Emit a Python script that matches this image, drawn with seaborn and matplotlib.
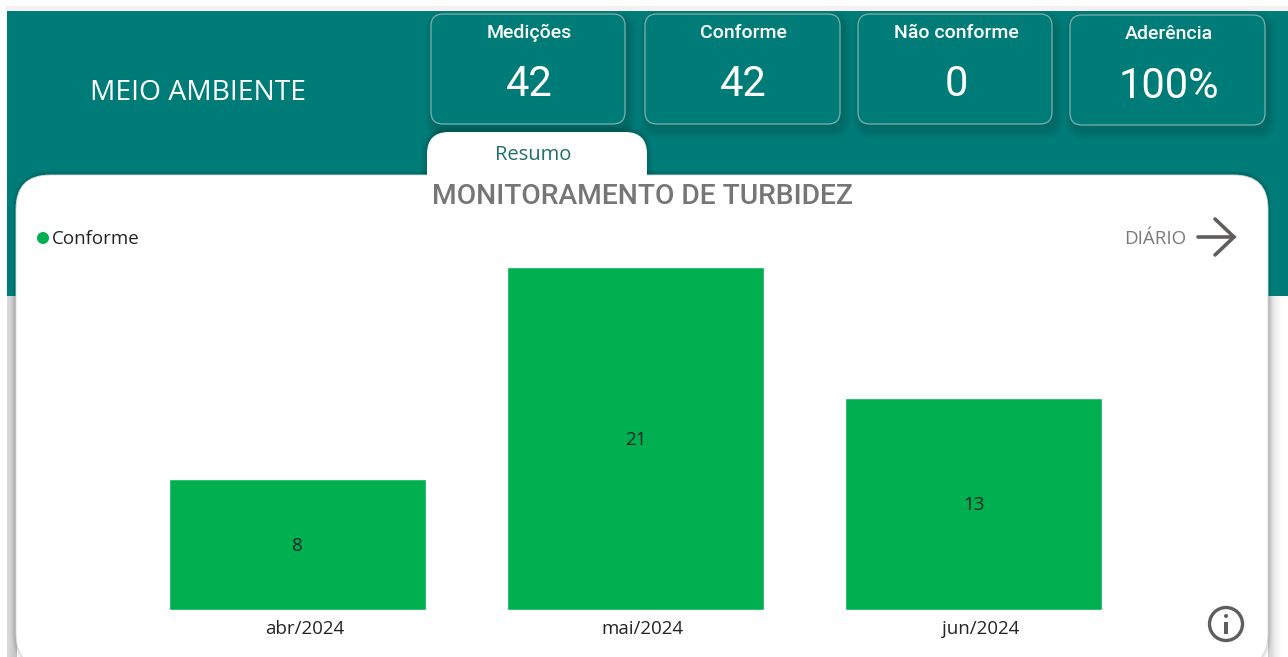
import matplotlib
matplotlib.use("Agg")
import matplotlib.pyplot as plt
from matplotlib.patches import FancyBboxPatch, Rectangle, Circle
from matplotlib.transforms import ScaledTranslation
import pandas as pd
import seaborn as sns

months = ["abr/2024", "mai/2024", "jun/2024"]
conforme = [8, 21, 13]
kpi_titles = ["Medições", "Conforme", "Não conforme", "Aderência"]
kpi_values = ["42", "42", "0", "100%"]
page_title = "MEIO AMBIENTE"
tab_label = "Resumo"
chart_title = "MONITORAMENTO DE TURBIDEZ"
legend_label = "Conforme"
link_label = "DIÁRIO"

TEAL = "#007C78"
GREEN = "#00B050"
W, H = 1288, 657

sns.set_theme(style="white")
plt.rcParams["font.family"] = ["Open Sans", "DejaVu Sans"]

fig = plt.figure(figsize=(W / 100, H / 100), dpi=100, facecolor="white")
bg = fig.add_axes([0, 0, 1, 1], zorder=0)
bg.set_xlim(0, W)
bg.set_ylim(H, 0)
bg.axis("off")


def rrect(x0, y0, x1, y1, r, fc, ec="none", lw=0, alpha=None, z=1):
    p = FancyBboxPatch((x0, y0), x1 - x0, y1 - y0,
                       boxstyle=f"round,pad=0,rounding_size={r}",
                       fc=fc, ec=ec, lw=lw, alpha=alpha, zorder=z)
    bg.add_patch(p)
    return p


def shadow(x0, y0, x1, y1, r, dx, dy, spread, strength, z):
    for i in range(spread, 0, -1):
        rrect(x0 + dx - i, y0 + dy - i, x1 + dx + i, y1 + dy + i, r + i,
              "black", alpha=strength, z=z)


# page background
bg.add_patch(Rectangle((6, 6), W - 6, 5, fc="#F3F0EF", ec="none", zorder=0.5))
bg.add_patch(Rectangle((7, 11), W - 7, 285, fc=TEAL, ec="none", zorder=0.6))
for i in range(10):
    g = 0.86 - 0.012 * i
    bg.add_patch(Rectangle((7 + i, 296), 1.2, H - 296, fc=(g, g, g), ec="none", zorder=0.5))
for i in range(14):
    bg.add_patch(Rectangle((1268 + i * 1.2, 296), 1.2, H - 296,
                           fc="black", alpha=0.2 * (1 - i / 14) ** 2, ec="none", zorder=0.7))

# main card and tab
card = (16, 175, 1268, 668)
shadow(*card, 34, 0, -1, 4, 0.03, 1)
tab = (427, 132, 647, 210)
shadow(*tab, 22, 0, -1, 6, 0.022, 1.1)
rrect(*tab, 22, "white", z=1.5)
rrect(*card, 34, "white", ec="#D5DBDA", lw=0.6, z=1.6)
bg.add_patch(Rectangle((428, 170), 218, 30, fc="white", ec="none", zorder=1.7))

# KPI cards
kpi_boxes = [(431, 14, 625, 124), (645, 14, 840, 124),
             (858, 14, 1052, 124), (1070, 15, 1265, 125)]
kpi_title_y = [33, 33, 33, 34]
kpi_value_y = [85, 85, 85, 87]
for box, t, v, ty, vy in zip(kpi_boxes, kpi_titles, kpi_values, kpi_title_y, kpi_value_y):
    shadow(*box, 12, 3, 6, 9, 0.016, 0.8)
    rrect(*box, 12, TEAL, ec="#7FAFAC", lw=0.9, z=1.0)
    cx = (box[0] + box[2]) / 2
    bg.text(cx + 1, ty, t, color="white", fontsize=14, fontweight="medium",
            fontfamily=["Roboto", "DejaVu Sans"], ha="center", va="center", zorder=3)
    bg.text(cx + 1, vy, v, color="white", fontsize=30, fontfamily=["Roboto", "DejaVu Sans"],
            fontweight="regular", ha="center", va="center", zorder=3)

bg.text(198, 93, page_title, color="white", fontsize=20.3, ha="center", va="center", zorder=3)
bg.text(533, 154.5, tab_label, color="#1F6F6C", fontsize=14.5, ha="center", va="center", zorder=3)
bg.text(643, 196, chart_title, color="#767676", fontsize=20.3, fontweight="medium",
        fontfamily=["Roboto", "DejaVu Sans"], ha="center", va="center", zorder=3)

# legend
bg.add_patch(Circle((43, 238), 6, fc=GREEN, ec="none", zorder=3))
bg.text(52, 238.5, legend_label, color="#252423", fontsize=13.5, ha="left", va="center", zorder=3)

# link arrow
bg.text(1155, 238.5, link_label, color="#7A7A7A", fontsize=13.5, ha="center", va="center", zorder=3)
bg.plot([1198, 1234], [237, 237], color="#605E5C", lw=2.6, zorder=3, solid_capstyle="round")
bg.plot([1215, 1234, 1215], [219, 237, 255], color="#605E5C", lw=2.6, zorder=3,
        solid_capstyle="round", solid_joinstyle="miter")

# info icon
bg.add_patch(Circle((1226, 624), 16.5, fc="none", ec="#605E5C", lw=2.4, zorder=3))
bg.add_patch(Rectangle((1224.4, 622), 3.2, 12, fc="#605E5C", ec="none", zorder=3))
bg.add_patch(Circle((1226, 616), 2, fc="#605E5C", ec="none", zorder=3))

# chart
ax = fig.add_axes([128.5 / W, 1 - 610 / H, (1143 - 128.5) / W, (610 - 266.8) / H], zorder=2)
ax.patch.set_alpha(0)
df = pd.DataFrame({"mes": months, "Conforme": conforme})
sns.barplot(data=df, x="mes", y="Conforme", color=GREEN, saturation=1, width=0.76, ax=ax)
ax.set_xlim(-0.5, 2.5)
ax.set_ylim(0, max(conforme))
ax.set_xlabel("")
ax.set_ylabel("")
ax.set_yticks([])
sns.despine(ax=ax, left=True, bottom=True)
ax.tick_params(axis="x", length=0, pad=7.5, labelsize=13.5, labelcolor="#252423")
# the month labels sit slightly right of the bar centres in the reference
offset = ScaledTranslation(7 / 100, 0, fig.dpi_scale_trans)
for lab in ax.get_xticklabels():
    lab.set_transform(lab.get_transform() + offset)
for c in ax.containers:
    labs = ax.bar_label(c, labels=[str(v) for v in conforme], label_type="center",
                        color="#252423", fontsize=13.5)
    for t in labs:
        t.set_y(t.get_position()[1] - 1)

fig.savefig("out.png", dpi=100, facecolor="white")
